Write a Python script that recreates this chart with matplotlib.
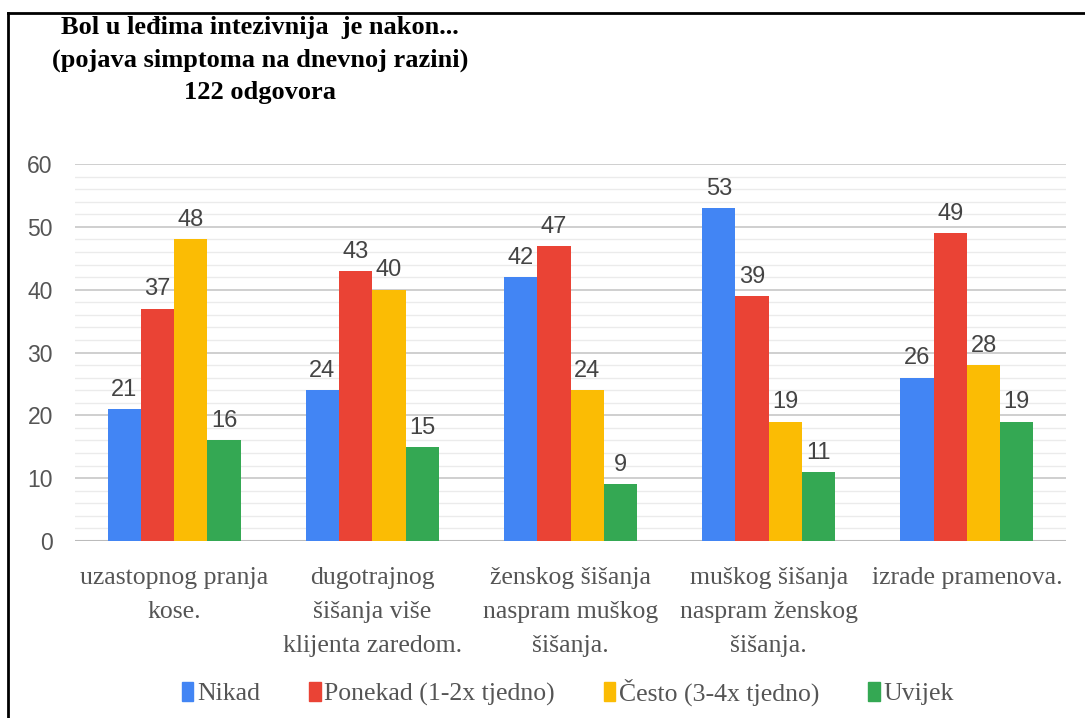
import matplotlib
matplotlib.use("Agg")
import matplotlib.pyplot as plt
import numpy as np
from matplotlib.lines import Line2D
from matplotlib.patches import Rectangle

categories = ["uzastopnog pranja\nkose.",
              "dugotrajnog\nšišanja više\nklijenta zaredom.",
              "ženskog šišanja\nnaspram muškog\nšišanja.",
              "muškog šišanja\nnaspram ženskog\nšišanja.",
              "izrade pramenova."]
series_names = ["Nikad", "Ponekad (1-2x tjedno)", "Često (3-4x tjedno)", "Uvijek"]
nikad = [21, 24, 42, 53, 26]
ponekad = [37, 43, 47, 39, 49]
cesto = [48, 40, 24, 19, 28]
uvijek = [16, 15, 9, 11, 19]
colors = ["#4285F4", "#EA4335", "#FBBC04", "#34A853"]
title_lines = "Bol u leđima intezivnija  je nakon...\n(pojava simptoma na dnevnoj razini)\n122 odgovora"

values = [nikad, ponekad, cesto, uvijek]

fig = plt.figure(figsize=(10.85, 7.18), dpi=100)
ax = fig.add_axes([75/1085, 1-541/718, (1066-75)/1085, (541-164)/718])

x = np.arange(len(categories))
n = len(values)
bw = 0.168
for i, (vals, c) in enumerate(zip(values, colors)):
    pos = x + (i - (n-1)/2) * bw
    ax.bar(pos, vals, bw, color=c, zorder=3)
    for p, v in zip(pos, vals):
        ax.text(p, v + 1.3, str(v), ha="center", va="bottom", fontsize=17,
                color="#444444", family="Liberation Sans", zorder=4)

ax.set_xlim(-0.5, len(categories) - 0.5)
ax.set_ylim(0, 60)
ax.set_yticks(np.arange(0, 61, 10))
ax.set_yticks(np.arange(0, 61, 2), minor=True)
ax.yaxis.grid(True, which="major", color="#cccccc", lw=1.3, zorder=0)
ax.yaxis.grid(True, which="minor", color="#ebebeb", lw=1.0, zorder=0)
for s in ax.spines.values():
    s.set_visible(False)
ax.axhline(0, color="#bbbbbb", lw=1.5, zorder=2)
ax.tick_params(axis="y", which="both", length=0, pad=16, labelsize=16.5,
               labelcolor="#555555")
for lab in ax.get_yticklabels():
    lab.set_family("Liberation Sans")
ax.set_xticks(x)
ax.set_xticklabels(categories, fontsize=18.5, color="#555555", family="Liberation Serif",
                   linespacing=1.68, va="top")
ax.tick_params(axis="x", length=0, pad=19)

fig.text(260/1085, 1-60/718, title_lines, ha="center", va="center", fontsize=19,
         fontweight="bold", family="Liberation Serif", linespacing=1.5, color="black")

handles = [Rectangle((0, 0), 1, 1, color=c) for c in colors]
leg = fig.legend(handles, series_names, loc="center", bbox_to_anchor=(568/1085, 1-692/718),
                 ncol=4, frameon=False, handlelength=0.45, handleheight=0.8,
                 handletextpad=0.15, columnspacing=1.9,
                 prop={"family": "Liberation Serif", "size": 18.5})
for t in leg.get_texts():
    t.set_color("#555555")

fig.add_artist(Line2D([8/1085, 8/1085], [0, 1-13/718], transform=fig.transFigure,
                      color="black", lw=2))
fig.add_artist(Line2D([8/1085, 1], [1-13/718, 1-13/718], transform=fig.transFigure,
                      color="black", lw=2))

fig.savefig("out.png", dpi=100)
